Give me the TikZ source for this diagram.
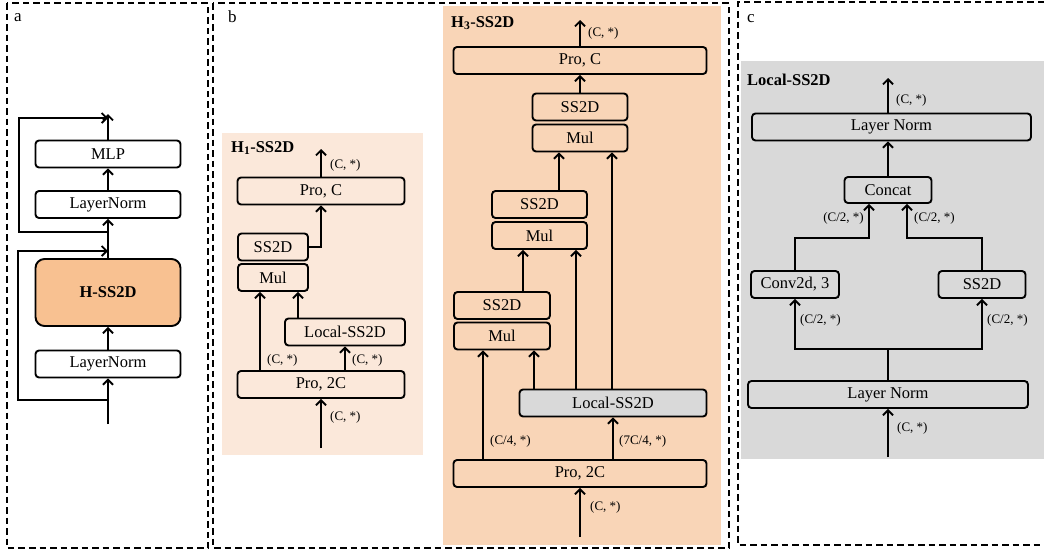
\documentclass[tikz,border=0pt]{standalone}
\usepackage{fontspec}
\setmainfont{Liberation Serif}
\usetikzlibrary{arrows.meta,positioning}
\definecolor{hssorange}{HTML}{F8C191}
\definecolor{hlight}{HTML}{FBE8DA}
\definecolor{hpeach}{HTML}{F9D5B7}
\definecolor{lgray}{HTML}{D9D9D9}

\begin{document}
\begin{tikzpicture}[
  x=1pt, y=-1pt,
  box/.style={draw, rounded corners=3.5pt, line width=1.9pt, inner sep=0pt, minimum height=27pt, font=\fontsize{16.5}{19}\selectfont},
  arr/.style={-{Straight Barb[length=5pt,width=10pt]}, line width=1.9pt},
  lne/.style={line width=1.9pt},
  lab/.style={anchor=west, inner sep=0pt, font=\fontsize{13}{15}\selectfont},
  ttl/.style={anchor=west, inner sep=0pt, font=\fontsize{16.5}{19}\selectfont\bfseries},
  panel/.style={dash pattern=on 6.5pt off 4pt, line width=2pt}
]
\useasboundingbox (0,0) rectangle (1044,552);

% backgrounds
\fill[hlight] (222,133) rectangle (423,455);
\fill[hpeach] (443,6) rectangle (721,545);
\fill[lgray] (741,61) rectangle (1044,459);

% dashed panels
\draw[panel] (7,3) rectangle (208,548);
\draw[panel] (213,3) rectangle (729,548);
\draw[panel] (1044,2) -- (738,2) -- (738,545) -- (1044,545);
\node[lab, font=\fontsize{17}{19}\selectfont] (taga) at (14,18) {a};
\node[lab, font=\fontsize{17}{19}\selectfont] (tagb) at (228,17) {b};
\node[lab, font=\fontsize{17}{19}\selectfont] (tagc) at (747,19) {c};

% (a) block
\node[box, fill=white, minimum width=145pt] (mlp) at (108,154) {MLP};
\node[box, fill=white, minimum width=145pt] (lnb) at (108,204.5) {LayerNorm};
\node[box, fill=hssorange, minimum width=145pt, minimum height=67pt, rounded corners=9pt, font=\bfseries\fontsize{16.5}{19}\selectfont] (hss) at (108,292.5) {H-SS2D};
\node[box, fill=white, minimum width=145pt] (lna) at (108,364) {LayerNorm};
\coordinate (ain) at (108,424);
\coordinate (aout) at (108,114);
\draw[arr] (ain) -- (lna.south);
\draw[arr] (lna.north) -- (hss.south);
\draw[arr] (hss.north) -- (lnb.south);
\draw[arr] (lnb.north) -- (mlp.south);
\draw[arr] (mlp.north) -- (aout);
\draw[arr] (ain |- 0,400) -| (18,251) -- (ain |- 0,251);
\draw[arr] (ain |- 0,232) -| (19,118) -- (ain |- 0,118);

% (b) H1-SS2D
\node[ttl] (t1) at (231,148) {H\textsubscript{1}-SS2D};
\node[box, minimum width=167pt] (pca) at (321,191) {Pro, C};
\node[box, minimum width=70pt] (ssa) at (273,247) {SS2D};
\node[box, minimum width=70pt] (mula) at (273,277.5) {Mul};
\node[box, minimum width=120pt] (loca) at (345,332) {Local-SS2D};
\node[box, minimum width=167pt] (p2ca) at (321,384.5) {Pro, 2C};
\coordinate (bin) at (321,448);
\coordinate (bout) at (321,149);
\draw[arr] (bin) -- (p2ca.south);
\draw[arr] (260,0 |- p2ca.north) -- (260,0 |- mula.south);
\draw[arr] (loca.south |- p2ca.north) -- (loca.south);
\draw[arr] (298,0 |- loca.north) -- (298,0 |- mula.south);
\draw[arr] (ssa.east) -| (pca.south);
\draw[arr] (pca.north) -- (bout);
\node[lab] (la1) at (330,417) {(C, *)};
\node[lab] (la2) at (267,360) {(C, *)};
\node[lab] (la3) at (352,360) {(C, *)};
\node[lab] (la4) at (330,165) {(C, *)};

% (b) H3-SS2D
\node[ttl] (t3) at (451,23) {H\textsubscript{3}-SS2D};
\node[box, minimum width=253pt] (pcb) at (580,60.5) {Pro, C};
\node[box, minimum width=95pt] (ssb1) at (580,107) {SS2D};
\node[box, minimum width=95pt] (mulb1) at (580,138) {Mul};
\node[box, minimum width=95pt] (ssb2) at (539.5,204.5) {SS2D};
\node[box, minimum width=95pt] (mulb2) at (539.5,235.5) {Mul};
\node[box, minimum width=96pt] (ssb3) at (502,305.5) {SS2D};
\node[box, minimum width=96pt] (mulb3) at (502,336) {Mul};
\node[box, fill=lgray, minimum width=187pt] (locb) at (613,403) {Local-SS2D};
\node[box, minimum width=253pt] (p2cb) at (580,473.5) {Pro, 2C};
\coordinate (cin) at (580,537);
\coordinate (cout) at (580,20);
\draw[arr] (cin) -- (p2cb.south);
\draw[arr] (483,0 |- p2cb.north) -- (483,0 |- mulb3.south);
\draw[arr] (locb.south |- p2cb.north) -- (locb.south);
\draw[arr] (534,0 |- locb.north) -- (534,0 |- mulb3.south);
\draw[arr] (576,0 |- locb.north) -- (576,0 |- mulb2.south);
\draw[arr] (612,0 |- locb.north) -- (612,0 |- mulb1.south);
\draw[arr] (523,0 |- ssb3.north) -- (523,0 |- mulb2.south);
\draw[arr] (559,0 |- ssb2.north) -- (559,0 |- mulb1.south);
\draw[arr] (ssb1.north) -- (ssb1.north |- pcb.south);
\draw[arr] (pcb.north) -- (cout);
\node[lab] (lb1) at (590,507) {(C, *)};
\node[lab] (lb2) at (490,441) {(C/4, *)};
\node[lab] (lb3) at (619,441) {(7C/4, *)};
\node[lab] (lb4) at (588,33) {(C, *)};

% (c) Local-SS2D
\node[ttl] (tc) at (747,80) {Local-SS2D};
\node[box, minimum width=279pt] (lnt) at (891.5,127) {Layer Norm};
\node[box, minimum width=87pt, minimum height=26pt] (cat) at (888,190) {Concat};
\node[box, minimum width=88pt] (conv) at (795,284.5) {Conv2d, 3};
\node[box, minimum width=87pt] (ssc) at (982,284.5) {SS2D};
\node[box, minimum width=280pt] (lnl) at (888,394.5) {Layer Norm};
\coordinate (din) at (888,457);
\coordinate (dout) at (888,78);
\coordinate (split) at (888,349);
\draw[arr] (din) -- (lnl.south);
\draw[lne] (lnl.north) -- (split);
\draw[arr] (split) -| (conv.south);
\draw[arr] (split) -| (ssc.south);
\draw[arr] (conv.north) |- (869,238) -- (869,0 |- cat.south);
\draw[arr] (ssc.north) |- (907,238) -- (907,0 |- cat.south);
\draw[arr] (cat.north) -- (cat.north |- lnt.south);
\draw[arr] (888,0 |- lnt.north) -- (dout);
\node[lab] (lc1) at (897,428) {(C, *)};
\node[lab] (lc2) at (800,320) {(C/2, *)};
\node[lab] (lc3) at (987,320) {(C/2, *)};
\node[lab, anchor=east] (lc4) at (864,218) {(C/2, *)};
\node[lab] (lc5) at (914,218) {(C/2, *)};
\node[lab] (lc6) at (896,100) {(C, *)};
\end{tikzpicture}
\end{document}
